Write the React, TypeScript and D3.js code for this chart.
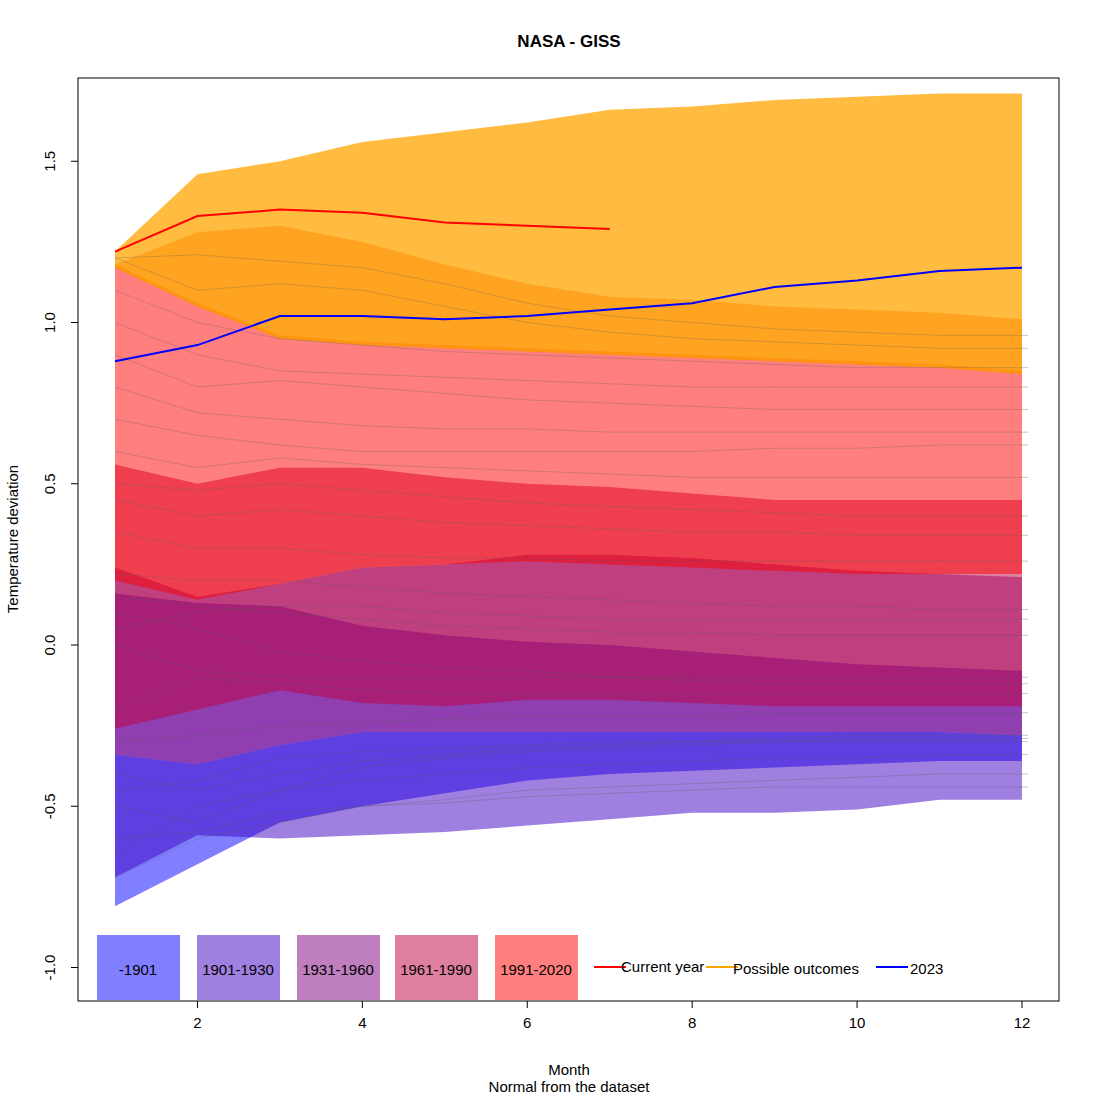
import * as d3 from "d3";

const months = [1, 2, 3, 4, 5, 6, 7, 8, 9, 10, 11, 12];

// band edges per period (upper / lower)
const bands = [
  { name: "-1901", color: "rgba(0,0,255,0.5)", legend: "#7f7fff",
    upper: [-0.34, -0.37, -0.31, -0.27, -0.27, -0.27, -0.27, -0.27, -0.27, -0.27, -0.27, -0.28],
    lower: [-0.81, -0.68, -0.55, -0.5, -0.46, -0.42, -0.4, -0.39, -0.38, -0.37, -0.36, -0.36] },
  { name: "1901-1930", color: "rgba(64,0,192,0.5)", legend: "#9f7fdf",
    upper: [0.16, 0.13, 0.12, 0.06, 0.03, 0.01, 0.0, -0.02, -0.04, -0.06, -0.07, -0.08],
    lower: [-0.72, -0.59, -0.6, -0.59, -0.58, -0.56, -0.54, -0.52, -0.52, -0.51, -0.48, -0.48] },
  { name: "1931-1960", color: "rgba(128,0,128,0.5)", legend: "#bf7fbf",
    upper: [0.24, 0.15, 0.19, 0.24, 0.25, 0.28, 0.28, 0.27, 0.25, 0.23, 0.22, 0.21],
    lower: [-0.34, -0.37, -0.31, -0.27, -0.27, -0.27, -0.27, -0.27, -0.27, -0.27, -0.27, -0.28] },
  { name: "1961-1990", color: "rgba(192,0,64,0.5)", legend: "#df7f9f",
    upper: [0.56, 0.5, 0.55, 0.55, 0.52, 0.5, 0.49, 0.47, 0.45, 0.45, 0.45, 0.45],
    lower: [-0.26, -0.2, -0.14, -0.18, -0.19, -0.17, -0.17, -0.18, -0.19, -0.19, -0.19, -0.19] },
  { name: "1991-2020", color: "rgba(255,0,0,0.5)", legend: "#ff7f7f",
    upper: [1.18, 1.06, 0.96, 0.94, 0.93, 0.92, 0.91, 0.9, 0.89, 0.88, 0.87, 0.85],
    lower: [0.2, 0.14, 0.19, 0.24, 0.25, 0.26, 0.25, 0.24, 0.23, 0.22, 0.22, 0.22] },
];

const outcomeOuterUpper = [1.22, 1.46, 1.5, 1.56, 1.59, 1.62, 1.66, 1.67, 1.69, 1.7, 1.71, 1.71];
const outcomeInnerUpper = [1.18, 1.28, 1.3, 1.25, 1.18, 1.12, 1.08, 1.07, 1.05, 1.04, 1.03, 1.01];
const outcomeLower = [1.17, 1.05, 0.95, 0.93, 0.92, 0.91, 0.9, 0.89, 0.88, 0.87, 0.86, 0.84];

const currentYear = [1.22, 1.33, 1.35, 1.34, 1.31, 1.3, 1.29];
const year2023 = [0.88, 0.93, 1.02, 1.02, 1.01, 1.02, 1.04, 1.06, 1.11, 1.13, 1.16, 1.17];

// thin lines for individual years (approximate)
const yearLines = [
  [-0.72, -0.6, -0.55, -0.5, -0.48, -0.45, -0.44, -0.43, -0.42, -0.41, -0.4, -0.4],
  [-0.65, -0.5, -0.45, -0.42, -0.4, -0.38, -0.37, -0.36, -0.35, -0.35, -0.34, -0.34],
  [-0.5, -0.55, -0.45, -0.38, -0.35, -0.33, -0.32, -0.31, -0.3, -0.3, -0.3, -0.3],
  [-0.45, -0.42, -0.35, -0.33, -0.32, -0.31, -0.3, -0.3, -0.3, -0.29, -0.29, -0.29],
  [-0.6, -0.58, -0.52, -0.5, -0.49, -0.47, -0.46, -0.45, -0.44, -0.44, -0.44, -0.44],
  [-0.4, -0.45, -0.4, -0.36, -0.34, -0.32, -0.31, -0.3, -0.29, -0.28, -0.28, -0.28],
  [-0.3, -0.28, -0.25, -0.24, -0.23, -0.22, -0.22, -0.22, -0.21, -0.21, -0.21, -0.21],
  [-0.2, -0.1, -0.12, -0.14, -0.15, -0.15, -0.15, -0.15, -0.15, -0.15, -0.15, -0.15],
  [0.1, 0.05, -0.02, -0.05, -0.07, -0.08, -0.1, -0.11, -0.12, -0.12, -0.12, -0.12],
  [0.0, -0.08, -0.1, -0.1, -0.1, -0.1, -0.1, -0.1, -0.1, -0.1, -0.1, -0.1],
  [0.15, 0.12, 0.1, 0.08, 0.06, 0.05, 0.04, 0.04, 0.03, 0.03, 0.03, 0.03],
  [0.05, 0.1, 0.12, 0.12, 0.1, 0.09, 0.08, 0.08, 0.08, 0.08, 0.08, 0.08],
  [0.22, 0.2, 0.2, 0.18, 0.16, 0.15, 0.14, 0.13, 0.12, 0.12, 0.11, 0.11],
  [0.35, 0.3, 0.3, 0.28, 0.27, 0.27, 0.26, 0.26, 0.26, 0.26, 0.26, 0.26],
  [0.45, 0.4, 0.42, 0.4, 0.38, 0.37, 0.36, 0.35, 0.35, 0.34, 0.34, 0.34],
  [0.5, 0.48, 0.5, 0.48, 0.46, 0.44, 0.43, 0.42, 0.41, 0.4, 0.4, 0.4],
  [0.6, 0.55, 0.58, 0.56, 0.55, 0.54, 0.53, 0.52, 0.52, 0.52, 0.52, 0.52],
  [0.7, 0.65, 0.62, 0.6, 0.6, 0.6, 0.6, 0.6, 0.61, 0.61, 0.62, 0.62],
  [0.8, 0.72, 0.7, 0.68, 0.67, 0.67, 0.66, 0.66, 0.66, 0.66, 0.66, 0.66],
  [0.9, 0.8, 0.82, 0.8, 0.78, 0.76, 0.75, 0.74, 0.73, 0.73, 0.73, 0.73],
  [1.0, 0.9, 0.85, 0.84, 0.83, 0.82, 0.81, 0.8, 0.8, 0.8, 0.8, 0.8],
  [1.1, 1.0, 0.95, 0.93, 0.91, 0.9, 0.89, 0.88, 0.87, 0.86, 0.86, 0.86],
  [1.2, 1.21, 1.19, 1.17, 1.12, 1.06, 1.02, 1.0, 0.98, 0.97, 0.96, 0.96],
  [1.2, 1.1, 1.12, 1.1, 1.05, 1.0, 0.97, 0.95, 0.94, 0.93, 0.92, 0.92],
];

const xTicks = [2, 4, 6, 8, 10, 12];
const yTicks = [-1.0, -0.5, 0.0, 0.5, 1.0, 1.5];

const W = 1100, H = 1100;
const left = 78, right = 1059, top = 78, bottom = 1001;
const x = d3.scaleLinear().domain([1, 12]).range([115, 1022]);
const y = d3.scaleLinear().domain([0, 1]).range([645, 322.5]);

const area = (up: number[], lo: number[]) =>
  d3.area<number>().x((_, i) => x(months[i])).y0((_, i) => y(lo[i])).y1((d) => y(d))(up) || "";
const line = (v: number[]) =>
  d3.line<number>().x((_, i) => x(months[i])).y((d) => y(d))(v) || "";

const font = "Liberation Sans, Arial, sans-serif";

export default function App() {
  const legendX = [97, 197, 297, 395, 495];
  return (
    <svg width={W} height={H} style={{ position: "absolute", left: 0, top: 0, fontFamily: font }}>
      <rect width={W} height={H} fill="white" />
      {bands.map((b) => (
        <path key={b.name} d={area(b.upper, b.lower)} fill={b.color} />
      ))}
      <path d={area(outcomeOuterUpper, outcomeLower)} fill="rgba(255,165,0,0.75)" />
      <path d={area(outcomeInnerUpper, outcomeLower)} fill="rgba(255,140,0,0.5)" />
      {yearLines.map((l, i) => (
        <g key={i}>
          <path d={line(l)} fill="none" stroke="rgba(90,90,90,0.35)" strokeWidth={0.8} />
          <line x1={x(12)} x2={x(12) + 6} y1={y(l[11])} y2={y(l[11])} stroke="rgba(90,90,90,0.35)" />
        </g>
      ))}
      <path d={line(currentYear)} fill="none" stroke="red" strokeWidth={2} />
      <path d={line(year2023)} fill="none" stroke="blue" strokeWidth={2} />
      <rect x={left} y={top} width={right - left} height={bottom - top} fill="none" stroke="black" />
      {xTicks.map((t) => (
        <g key={t}>
          <line x1={x(t)} x2={x(t)} y1={bottom} y2={bottom + 7} stroke="black" />
          <text x={x(t)} y={bottom + 27} fontSize={15} textAnchor="middle">{t}</text>
        </g>
      ))}
      {yTicks.map((t) => (
        <g key={t}>
          <line x1={left - 7} x2={left} y1={y(t)} y2={y(t)} stroke="black" />
          <text transform={`translate(55,${y(t)}) rotate(-90)`} fontSize={15} textAnchor="middle">{t.toFixed(1)}</text>
        </g>
      ))}
      <text x={569} y={47} fontSize={17} fontWeight="bold" textAnchor="middle">NASA - GISS</text>
      <text x={569} y={1075} fontSize={15} textAnchor="middle">Month</text>
      <text x={569} y={1092} fontSize={15} textAnchor="middle">Normal from the dataset</text>
      <text transform="translate(18,539) rotate(-90)" fontSize={15} textAnchor="middle">Temperature deviation</text>
      {bands.map((b, i) => (
        <g key={b.name}>
          <rect x={legendX[i]} y={935} width={83} height={65} fill={b.legend} />
          <text x={legendX[i] + 41} y={975} fontSize={15} textAnchor="middle">{b.name}</text>
        </g>
      ))}
      <line x1={594} x2={626} y1={967} y2={967} stroke="red" strokeWidth={2} />
      <text x={621} y={972} fontSize={15}>Current year</text>
      <line x1={706} x2={738} y1={967} y2={967} stroke="orange" strokeWidth={2} />
      <text x={733} y={974} fontSize={15}>Possible outcomes</text>
      <line x1={876} x2={908} y1={967} y2={967} stroke="blue" strokeWidth={2} />
      <text x={910} y={974} fontSize={15}>2023</text>
    </svg>
  );
}
